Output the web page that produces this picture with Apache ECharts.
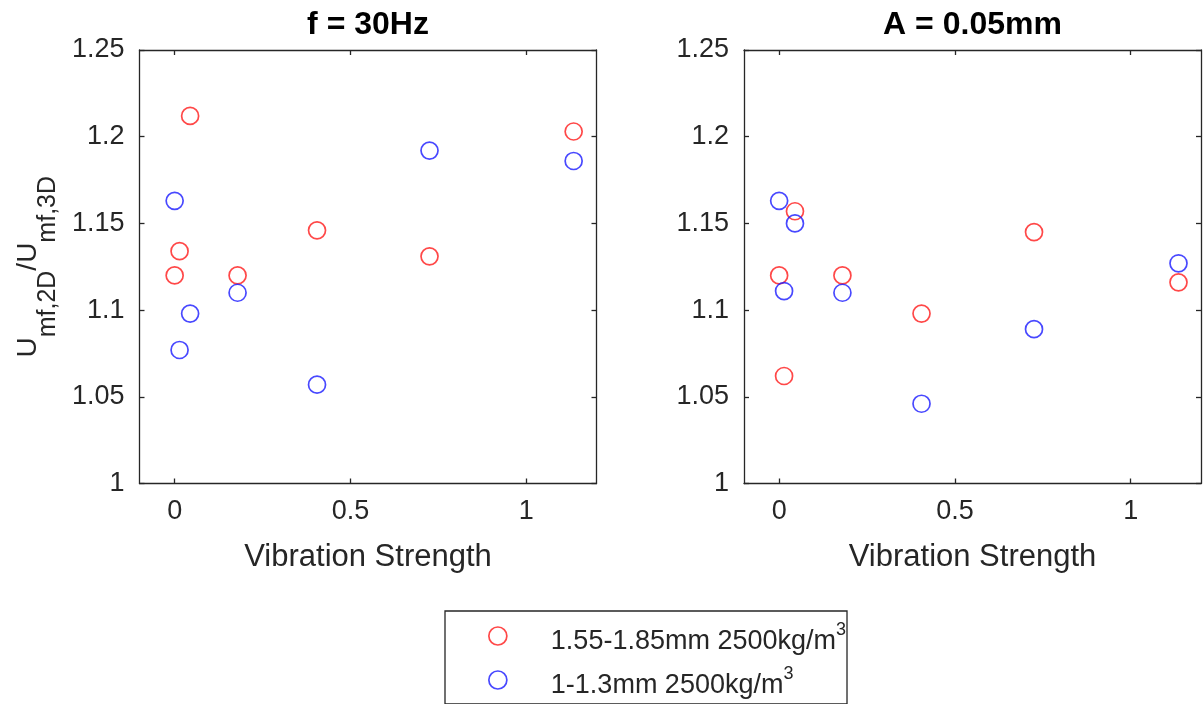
<!DOCTYPE html>
<html>
<head>
<meta charset="utf-8">
<script src="https://cdn.jsdelivr.net/npm/echarts@6/dist/echarts.min.js"></script>
<style>
  html, body { margin: 0; padding: 0; background: #fff; }
  #chart { width: 1203px; height: 704px; }
</style>
</head>
<body>
<div id="chart"></div>
<script>
// Vibration strength values (shared x positions)
const strengthLeft  = [0, 0.014, 0.044, 0.179, 0.405, 0.725, 1.135];
const strengthRight = [0, 0.014, 0.045, 0.180, 0.405, 0.725, 1.136];

// Umf,2D / Umf,3D ratios, panel "f = 30Hz"
const ratioLargeF30 = [1.120, 1.134, 1.212, 1.120, 1.146, 1.131, 1.203];
const ratioSmallF30 = [1.163, 1.077, 1.098, 1.110, 1.057, 1.192, 1.186];

// Umf,2D / Umf,3D ratios, panel "A = 0.05mm"
const ratioLargeA05 = [1.120, 1.062, 1.157, 1.120, 1.098, 1.145, 1.116];
const ratioSmallA05 = [1.163, 1.111, 1.150, 1.110, 1.046, 1.089, 1.127];

const panelTitles = ['f = 30Hz', 'A = 0.05mm'];
const seriesNames = ['1.55-1.85mm 2500kg/m^3', '1-1.3mm 2500kg/m^3'];
const xTickValues = [0, 0.5, 1];
const xLabelText = 'Vibration Strength';

const FONT = "'Liberation Sans', Arial, Helvetica, sans-serif";
const INK = '#262626';
const RED = '#ff1a1a';
const BLUE = '#1a1aff';

const pairs = (xs, ys) => xs.map((x, i) => [x, ys[i]]);

const grids = [
  { left: 139.5, top: 50, width: 457, height: 433.5 },
  { left: 744, top: 50, width: 457, height: 433.5 }
];

function xAxisFor(gridIndex, position) {
  const bottom = position === 'bottom';
  return {
    type: 'value', gridIndex, position,
    min: -0.1, max: 1.2,
    splitLine: { show: false },
    axisLine: { show: true, onZero: false, lineStyle: { color: INK, width: 1.3 } },
    axisTick: { show: true, inside: true, length: 5, customValues: xTickValues, lineStyle: { color: INK, width: 1.3 } },
    axisLabel: { show: bottom, customValues: xTickValues, margin: 15, color: INK, fontSize: 27, fontFamily: FONT },
    name: bottom ? xLabelText : '',
    nameLocation: 'middle', nameGap: 58,
    nameTextStyle: { color: INK, fontSize: 31, fontFamily: FONT }
  };
}

function yAxisFor(gridIndex, position, withName) {
  const left = position === 'left';
  return {
    type: 'value', gridIndex, position,
    min: 1, max: 1.25, interval: 0.05,
    splitLine: { show: false },
    axisLine: { show: true, onZero: false, lineStyle: { color: INK, width: 1.3 } },
    axisTick: { show: true, inside: true, length: 5, lineStyle: { color: INK, width: 1.3 } },
    axisLabel: { show: left, margin: 15, color: INK, fontSize: 27, fontFamily: FONT },
    name: withName ? '{u|U}{s|mf,2D}{u|/U}{s|mf,3D}' : '',
    nameLocation: 'middle', nameGap: 97, nameRotate: 90,
    nameTextStyle: {
      color: INK, fontFamily: FONT,
      rich: {
        u: { fontSize: 28, lineHeight: 28, verticalAlign: 'top', color: INK, fontFamily: FONT },
        s: { fontSize: 25, lineHeight: 25, padding: [21, 0, 0, 0], verticalAlign: 'top', color: INK, fontFamily: FONT }
      }
    }
  };
}

function scatter(name, color, xIdx, yIdx, data) {
  return {
    type: 'scatter', name, xAxisIndex: xIdx, yAxisIndex: yIdx,
    symbol: 'circle', symbolSize: 17,
    itemStyle: { color: 'rgba(0,0,0,0)', borderColor: color, borderWidth: 1.7 },
    emphasis: { disabled: true },
    data
  };
}

const option = {
  backgroundColor: '#fff',
  animation: false,
  title: panelTitles.map((t, i) => ({
    text: t,
    left: grids[i].left + grids[i].width / 2,
    top: 9,
    textAlign: 'center',
    padding: 0,
    textStyle: { color: '#000', fontSize: 32, fontWeight: 'bold', fontFamily: FONT }
  })),
  grid: grids,
  xAxis: [
    xAxisFor(0, 'bottom'), xAxisFor(0, 'top'),
    xAxisFor(1, 'bottom'), xAxisFor(1, 'top')
  ],
  yAxis: [
    yAxisFor(0, 'left', true), yAxisFor(0, 'right', false),
    yAxisFor(1, 'left', false), yAxisFor(1, 'right', false)
  ],
  legend: {
    data: seriesNames,
    orient: 'vertical',
    left: 445, top: 611,
    padding: [10, 1, 5, 43],
    itemGap: 10,
    itemWidth: 18, itemHeight: 18,
    borderColor: INK, borderWidth: 1.3,
    backgroundColor: '#fff',
    selectedMode: false,
    itemStyle: { color: 'rgba(0,0,0,0)', borderWidth: 1.7 },
    formatter: (name) => {
      const parts = name.split('^');
      return '{t|' + parts[0] + '}{p|' + parts[1] + '}';
    },
    textStyle: {
      color: INK, fontFamily: FONT,
      rich: {
        t: { fontSize: 27, lineHeight: 30, padding: [7, 0, 0, 39], verticalAlign: 'top', color: INK, fontFamily: FONT },
        p: { fontSize: 18, lineHeight: 18, verticalAlign: 'top', color: INK, fontFamily: FONT }
      }
    }
  },
  series: [
    scatter(seriesNames[0], RED, 0, 0, pairs(strengthLeft, ratioLargeF30)),
    scatter(seriesNames[1], BLUE, 0, 0, pairs(strengthLeft, ratioSmallF30)),
    scatter(seriesNames[0], RED, 2, 2, pairs(strengthRight, ratioLargeA05)),
    scatter(seriesNames[1], BLUE, 2, 2, pairs(strengthRight, ratioSmallA05))
  ]
};

const chart = echarts.init(document.getElementById('chart'), null, { renderer: 'canvas' });
chart.setOption(option);
</script>
</body>
</html>
